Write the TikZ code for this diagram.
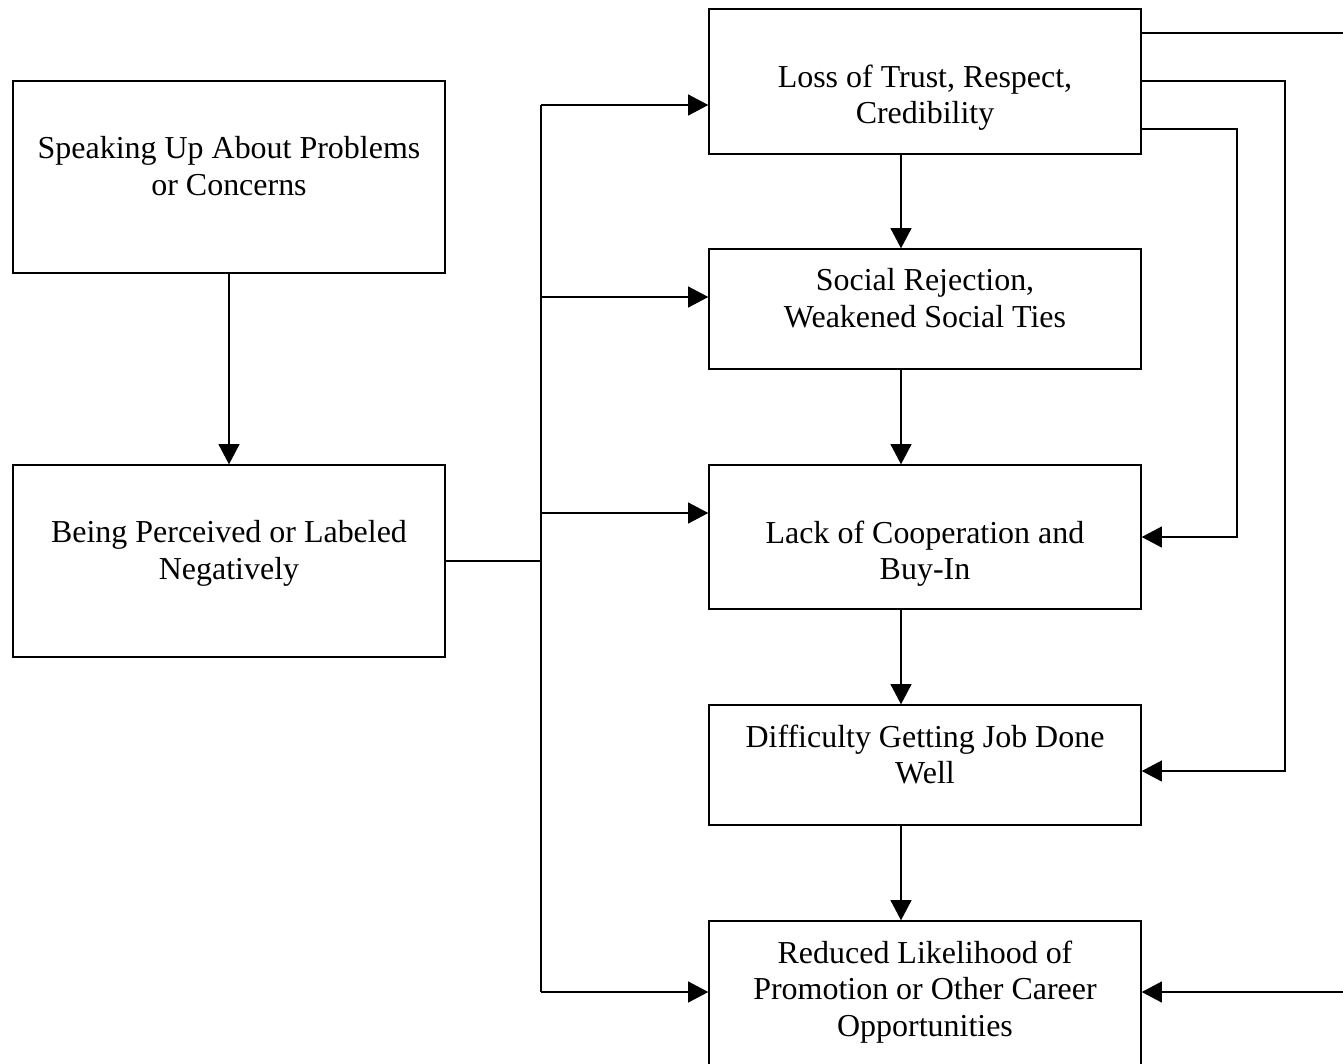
\documentclass[tikz,border=0pt]{standalone}
\usepackage{fontspec}
\setmainfont{Liberation Serif}
\usetikzlibrary{positioning,arrows.meta}

\tikzset{
  box/.style={draw,line width=0.55pt,minimum width=165.6pt,inner sep=0pt},
  txt/.style={align=center,font=\fontsize{12.25}{14}\selectfont,inner sep=0pt},
  arr/.style={-{Triangle[length=7.7pt,width=8pt]},line width=0.55pt}
}

\begin{document}
\begin{tikzpicture}[x=0.3833pt,y=-0.3833pt]
    \useasboundingbox (0,0) rectangle (1343,1063);
    \clip (0,0) rectangle (1343,1063);

    \node [box,minimum height=73.6pt] (speak) at (229,177) {};
    \node [box,minimum height=73.6pt] (label) at (229,561) {};
    \node [box,minimum height=55.6pt] (trust) at (925,81.5) {};
    \node [box,minimum height=46pt] (social) at (925,309) {};
    \node [box,minimum height=55.2pt] (coop) at (925,537) {};
    \node [box,minimum height=46pt] (job) at (925,765) {};
    \node [box,minimum height=55.2pt] (career) at (925,993) {};

    \node [txt,below=21.4pt of speak.north] (speaktxt) {Speaking Up About Problems\\or Concerns};
    \node [txt,below=21.4pt of label.north] (labeltxt) {Being Perceived or Labeled\\Negatively};
    \node [txt,below=21.4pt of trust.north] (trusttxt) {Loss of Trust, Respect,\\Credibility};
    \node [txt,below=7.6pt of social.north] (socialtxt) {Social Rejection,\\Weakened Social Ties};
    \node [txt,below=21.4pt of coop.north] (cooptxt) {Lack of Cooperation and\\Buy-In};
    \node [txt,below=7.6pt of job.north] (jobtxt) {Difficulty Getting Job Done\\Well};
    \node [txt,below=7.6pt of career.north] (careertxt) {Reduced Likelihood of\\Promotion or Other Career\\Opportunities};

    \draw [arr] (speak) -- (label);
    \foreach \a/\b in {trust/social,social/coop,coop/job,job/career}
    {
      \draw [arr] (\a.south -| 901,0) -- (\b.north -| 901,0);
    }

    \coordinate (fork) at (541,561);
    \draw [line width=0.55pt] (label.east) -- (fork);
    \draw [line width=0.55pt] (fork |- 0,105) -- (fork |- 0,992);
    \foreach \n/\y in {trust/105,social/297,coop/513,career/992}
    {
      \draw [arr] (fork |- 0,\y) -- (\n.west |- 0,\y);
    }

    \draw [arr] (trust.east |- 0,33) -- (1400,33) -- (1400,992) -- (career.east |- 0,992);
    \draw [arr] (trust.east |- 0,81) -| (1285,771) -- (job.east |- 0,771);
    \draw [arr] (trust.east |- 0,129) -| (1237,537) -- (coop.east |- 0,537);
\end{tikzpicture}
\end{document}
